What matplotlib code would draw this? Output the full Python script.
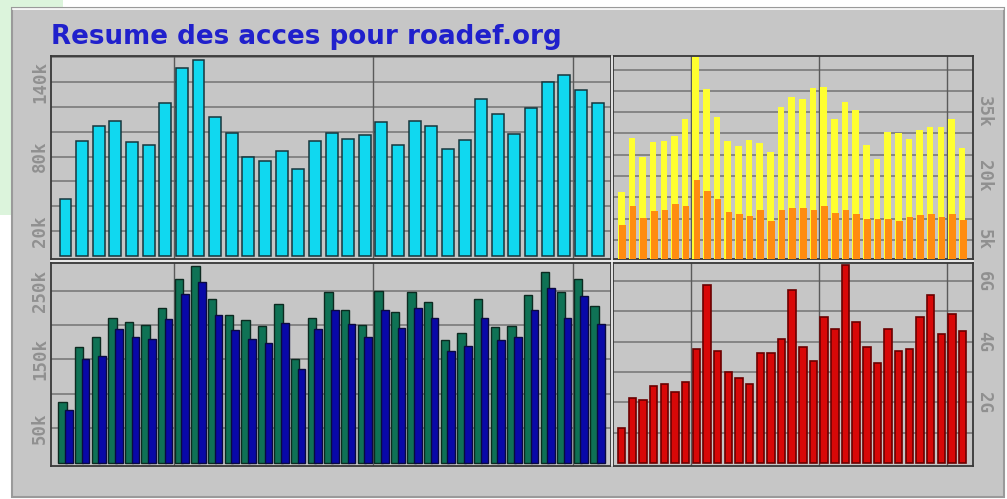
import matplotlib
matplotlib.use("Agg")
import matplotlib.pyplot as plt
from matplotlib.patches import Rectangle
from matplotlib.lines import Line2D
import numpy as np

# ---------------- data ----------------
title = "Resume des acces pour roadef.org"

# top-left (cyan), thousands
pages_k = [45.6, 92.6, 105, 109, 92, 89.7, 123, 151, 157.8, 112, 98.7, 80, 76.8,
           84.7, 70.2, 92.6, 98.7, 94, 97.4, 107.7, 89.4, 109, 105, 86, 93.7,
           126, 114, 97.9, 119, 140, 146, 134, 123.5]
# top-right (yellow / orange), thousands
visits_k = [16.2, 29.0, 24.5, 27.9, 28.3, 29.5, 33.4, 47.9, 40.5, 33.9, 28.3, 27.0,
            28.5, 27.8, 25.6, 36.1, 38.6, 38.1, 40.7, 40.9, 33.4, 37.4, 35.4, 27.2,
            24.1, 30.3, 30.1, 28.7, 30.9, 31.6, 31.6, 33.4, 26.6]
sites_k = [8.6, 12.9, 10.2, 11.7, 12.1, 13.4, 13.0, 19.1, 16.4, 14.6, 11.6, 11.1,
           10.7, 11.9, 9.4, 12.1, 12.4, 12.5, 11.9, 12.9, 11.2, 12.0, 11.0, 10.0,
           9.8, 9.9, 9.4, 10.4, 10.9, 11.1, 10.3, 11.1, 9.6]
# bottom-left (green / blue), thousands
hits_k = [87.9, 168, 182.5, 210, 205, 199.5, 224.8, 267, 285, 237, 214, 207.8, 199,
          231, 150.5, 210, 248, 222, 199.5, 250, 219, 248, 233.5, 178.6, 188, 237,
          196.6, 199, 244, 276.7, 248, 267, 227]
files_k = [76.7, 151, 155, 194.7, 182.5, 179.6, 208.7, 245, 262.6, 214, 192, 179.6,
           173.8, 203, 136.4, 194.7, 222, 202, 182, 222, 195.6, 224.8, 210, 161.7,
           170, 210, 178.6, 182.5, 222, 253, 210, 241.7, 202]
# bottom-right (red), gigabytes
volume_g = [1.16, 2.15, 2.08, 2.54, 2.62, 2.35, 2.67, 3.77, 5.89, 3.69, 3.0, 2.79,
            2.59, 3.64, 3.64, 4.10, 5.70, 3.84, 3.36, 4.81, 4.43, 6.55, 4.66, 3.84,
            3.31, 4.43, 3.69, 3.77, 4.81, 5.56, 4.27, 4.93, 4.35]

tl_ticks = [20, 80, 140];   tl_labels = ["20k", "80k", "140k"]
tr_ticks = [5, 20, 35];     tr_labels = ["5k", "20k", "35k"]
bl_ticks = [50, 150, 250];  bl_labels = ["50k", "150k", "250k"]
br_ticks = [2, 4, 6];       br_labels = ["2G", "4G", "6G"]
year_breaks = [6.5, 18.5, 30.5]

# ---------------- figure ----------------
W, H = 1007, 499
fig = plt.figure(figsize=(W / 100, H / 100), dpi=100)
fig.patch.set_facecolor("white")
BG = "#c6c6c6"

def px(x0, y0, x1, y1):
    return [x0 / W, (H - y1) / H, (x1 - x0) / W, (y1 - y0) / H]

# light green page background bits
fig.patches.append(Rectangle((0, (H - 8) / H), 63 / W, 8 / H, transform=fig.transFigure,
                             facecolor="#dcf4dc", edgecolor="none", zorder=-3))
fig.patches.append(Rectangle((0, (H - 215) / H), 12 / W, 215 / H, transform=fig.transFigure,
                             facecolor="#dcf4dc", edgecolor="none", zorder=-3))
# outer grey frame
fig.patches.append(Rectangle((12 / W, (H - 497) / H), 992 / W, 489 / H, transform=fig.transFigure,
                             facecolor=BG, edgecolor="#9a9a9a", linewidth=1.5, zorder=-2))
fig.lines.append(Line2D([13 / W, 1003 / W], [(H - 9) / H] * 2, transform=fig.transFigure,
                        color="white", lw=1.2, zorder=-1))

fig.text(51 / W, (H - 43.5) / H, title, color="#2020cc", fontsize=18.8,
         fontweight="bold", family="DejaVu Sans", ha="left", va="baseline", zorder=3)

ax_tl = fig.add_axes(px(51, 56, 611, 259))
ax_tr = fig.add_axes(px(613, 56, 973, 259))
ax_bl = fig.add_axes(px(51, 263, 611, 466))
ax_br = fig.add_axes(px(613, 263, 973, 466))

n = len(pages_k)
idx = np.arange(n)

def style(ax, xlim, ylim, grid, ticks, labels, side):
    ax.set_facecolor(BG)
    ax.set_xlim(*xlim)
    ax.set_ylim(*ylim)
    for g in grid:
        ax.axhline(g, color="#737373", lw=1.1, zorder=1)
    for b in year_breaks:
        ax.axvline(b, color="#5a5a5a", lw=1.0, zorder=1)
    ax.set_xticks([])
    ax.set_yticks(ticks)
    if side == "left":
        ax.set_yticklabels(labels, rotation=90, va="center", ha="center")
    else:
        ax.yaxis.tick_right()
        ax.set_yticklabels(labels, rotation=270, va="center", ha="center")
    ax.tick_params(axis="y", length=0, pad=8, labelcolor="#909090", labelsize=12.5)
    for lab in ax.get_yticklabels():
        lab.set_family("DejaVu Sans Mono")
        lab.set_fontweight("bold")
    for s in ax.spines.values():
        s.set_color("#383838")
        s.set_linewidth(1.3)

left_xlim = (-0.872, 32.81)
right_xlim = (-0.82, 32.97)

# top-left
style(ax_tl, left_xlim, (-2.5, 161), range(20, 161, 20), tl_ticks, tl_labels, "left")
ax_tl.bar(idx, pages_k, width=0.72, color="#10d8f0", edgecolor="#17363c", lw=1.1, zorder=3)

# top-right
style(ax_tr, right_xlim, (0.5, 48.2), range(5, 48, 5), tr_ticks, tr_labels, "right")
ax_tr.bar(idx - 0.05, visits_k, width=0.62, color="#ffff30", edgecolor="none", zorder=3)
ax_tr.bar(idx + 0.05, sites_k, width=0.62, color="#ff8c10", edgecolor="none", zorder=4)

# bottom-left
style(ax_bl, left_xlim, (-4.8, 290), range(50, 290, 50), bl_ticks, bl_labels, "left")
ax_bl.bar(idx - 0.18, hits_k, width=0.5, color="#0f7255", edgecolor="#0c2a20", lw=1.0, zorder=3)
ax_bl.bar(idx + 0.2, files_k, width=0.46, color="#0808a8", edgecolor="#0a0a40", lw=1.0, zorder=4)

# bottom-right
style(ax_br, right_xlim, (-0.1, 6.6), range(1, 7), br_ticks, br_labels, "right")
ax_br.bar(idx, volume_g, width=0.7, color="#d80808", edgecolor="#6a0000", lw=1.2, zorder=3)

# white separators between panels
fig.lines.append(Line2D([611.9 / W] * 2, [(H - 466) / H, (H - 56) / H], transform=fig.transFigure,
                        color="white", lw=1.2, zorder=5))
fig.lines.append(Line2D([51 / W, 973 / W], [(H - 261) / H] * 2, transform=fig.transFigure,
                        color="#eeeeee", lw=1.2, zorder=5))

fig.savefig("out.png", dpi=100, facecolor=fig.get_facecolor())
